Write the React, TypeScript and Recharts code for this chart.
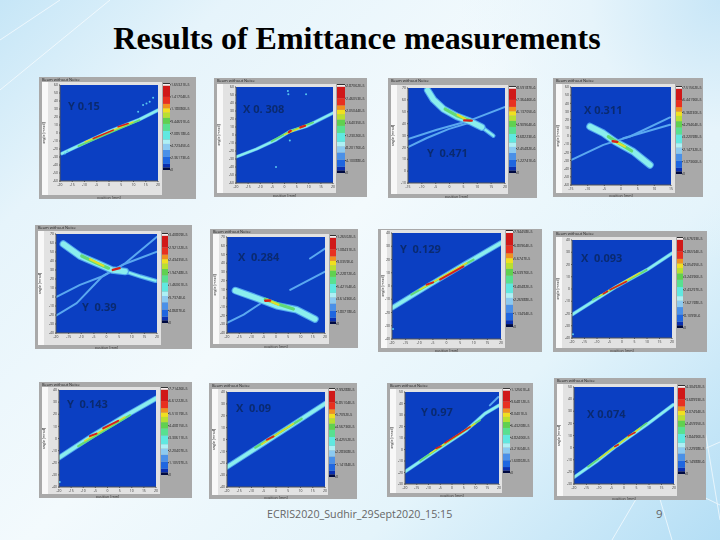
import React from 'react';
import { LineChart, Line, XAxis, YAxis, CartesianGrid, BarChart, Bar } from 'recharts';

type Seg = number[][];

const titleText = 'Results of Emittance measurements';
const footerText = 'ECRIS2020_Sudhir_29Sept2020_15:15';
const pageNumber = '9';

const xTicks20 = [-20, -15, -10, -5, 0, 5, 10, 15, 20];
const yTicks60 = [-60, -50, -40, -30, -20, -10, 0, 10, 20, 30, 40, 50, 60];
const yTicks40 = [-40, -30, -20, -10, 0, 10, 20, 30, 40];
const yTicks70 = [-40, -30, -20, -10, 0, 10, 20, 30, 40, 50, 60, 70];
const yTicks50 = [-30, -20, -10, 0, 10, 20, 30, 40, 50];

// Beam traces: [position mm, angle mrad]
const p1Beam: Seg[] = [[[-19.3, -25.7], [-11.9, -15.2], [0.3, 2.3], [12.5, 17], [20, 28.6]]];
const p1Green: Seg[] = [[[-12.5, -16.5], [12.5, 16.1]]];
const p1Yellow: Seg[] = [[[-9.8, -11], [9.8, 14]]];
const p1Red: Seg[] = [[[-6.4, -6.9], [1.7, 3.6]], [[3.7, 7.8], [7.8, 11.9]]];
const p1Specks: Seg[] = [[[11.9, 26.6], [13.9, 34.9], [16.6, 39.1], [15.3, 37], [18, 44], [-18, -25.7], [-17, -23]]];

const p2Beam: Seg[] = [[[-20, -27.5], [-11.5, -17.5], [-3.3, -5.8], [2.2, 4.6], [9, 10.8], [20, 27.5]]];
const p2Green: Seg[] = [[[-5.3, -7.9], [2.2, 4.6], [11.8, 15.8]]];
const p2Yellow: Seg[] = [[[0, 0.5], [9, 12]]];
const p2Red: Seg[] = [[[1.8, 3.5], [2.6, 5.5]], [[6.5, 9.5], [8.5, 11.5]]];
const p2Specks: Seg[] = [[[1.4, 55], [1.6, 51], [8.9, 51], [2.2, -7], [-3.5, -40]]];

const p3Streak: Seg[] = [[[-15, 27], [-4.6, 34.9], [7.4, 42.7], [20, 54]], [[-15, 20.3], [-8.2, 27.9], [-0.4, 35.4], [7.4, 41]]];
const p3Beam: Seg[] = [[[-7.9, 68], [-5.8, 60.2], [-2.2, 52.3], [2.6, 46.1], [7.4, 41.9], [11.6, 37.1]]];
const p3Tail: Seg[] = [[[7.4, 41.9], [11.6, 37.1], [15.8, 29.8]]];
const p3Green: Seg[] = [[[-1.6, 52.3], [2.6, 46.7], [7.4, 42.7]]];
const p3Yellow: Seg[] = [[[2.9, 47.5], [5.6, 43.9]]];
const p3Red: Seg[] = [[[5.3, 42.7], [8, 42.5]]];

const p4Streak: Seg[] = [[[-15, -29.4], [-5.3, -10.9], [2.7, -0.6], [14.7, 22.7]], [[0.7, -2.7], [14.7, 13.7]]];
const p4Beam: Seg[] = [[[-9.3, 11.6], [-5.3, 3.4], [-1.8, -6.8], [3.7, -19.1], [8.7, -35.5]]];
const p4Green: Seg[] = [[[-3.8, -0.7], [-0.3, -9.7], [3.2, -18.3]]];
const p4Yellow: Seg[] = [[[-2.1, -6], [1.2, -13]]];
const p4Red: Seg[] = [[[-2.5, -6.4], [-1.1, -7.2]]];

const p5Streak: Seg[] = [[[-20, -0.1], [-10.5, 13.5], [-1.8, 22.8], [7.4, 37.5], [20, 67]], [[-20, -20.8], [-11.8, -6.8], [-2, 22], [7.4, 37], [20, 50.4]]];
const p5Beam: Seg[] = [[[-17.1, 58.9], [-10.5, 45.6], [-3.8, 37.5], [2.1, 30.1], [7.4, 28.3]]];
const p5Tail: Seg[] = [[[7.4, 28.3], [13.4, 22.8], [19.4, 18]]];
const p5Green: Seg[] = [[[-9.8, 45.6], [-3.8, 37.5], [0.8, 32]]];
const p5Yellow: Seg[] = [[[-6.5, 42], [-1.2, 34.6]]];
const p5Red: Seg[] = [[[2.5, 30.1], [5.2, 32]]];

const p6Streak: Seg[] = [[[-20, -28.5], [-13.2, -19], [-5.1, -3.9]], [[5.8, 9.4], [20, 30.2]], [[13.9, 45.4], [20, 56.7]]];
const p6Beam: Seg[] = [[[-16.6, 8.6], [-7.8, -0.1], [0.3, -8.8], [8.5, -13.4], [15.9, -24]]];
const p6Green: Seg[] = [[[-4.4, -1.3], [1.7, -7.7], [7.1, -12.6]]];
const p6Yellow: Seg[] = [[[-3.7, -2], [1, -7.7]]];
const p6Red: Seg[] = [[[-4.4, -3.1], [-2.4, -2.8]]];

const p7Beam: Seg[] = [[[-20, -16.6], [-6.1, 1], [7.4, 17.4], [20, 32.5]]];
const p7Green: Seg[] = [[[-12.9, -6.5], [9.9, 19.9]]];
const p7Yellow: Seg[] = [[[-9.8, -2.8], [7.4, 17.4]]];
const p7Red: Seg[] = [[[-7.3, 1], [-4.9, 2.8]], [[-2.4, 4.8], [6.2, 14.8]]];
const p7Specks: Seg[] = [[[-19.6, -32.5]]];

const p8Beam: Seg[] = [[[-20, -21], [-2.2, 2], [9.9, 15.6], [20, 29.2]]];
const p8Green: Seg[] = [[[-11.6, -8.8], [9.9, 15.6]]];
const p8Yellow: Seg[] = [[[-8.9, -5.5], [7.2, 13.4]]];
const p8Red: Seg[] = [[[-7.5, -3.9], [-5.8, -1.8]], [[-4.8, -0.6], [1.8, 6.1]]];
const p8Specks: Seg[] = [[[-19.6, -37]]];

const p9Beam: Seg[] = [[[-20, -15.8], [-5.9, 2.7], [7.9, 19.3], [20, 33.1]]];
const p9Green: Seg[] = [[[-12.1, -6.4], [9.3, 19.3]]];
const p9Yellow: Seg[] = [[[-9.4, -2], [7.2, 17.9]]];
const p9Red: Seg[] = [[[-7.3, 1.9], [-4.5, 4.1]], [[-1.8, 8.3], [4.4, 14.6]]];
const p9Specks: Seg[] = [[[-19.7, -35.9]]];

const p10Beam: Seg[] = [[[-20, -23.2], [-10.5, -10.6], [-1, 2.1], [8.5, 14.7], [20, 30.2]]];
const p10Green: Seg[] = [[[-8.5, -6.9], [10.5, 17.5]]];
const p10Yellow: Seg[] = [[[-5.8, -4.1], [7.1, 13.3]]];
const p10Red: Seg[] = [[[-3.7, -0.2], [-1, 2.6]]];

const p11Streak: Seg[] = [[[16.1, 38.4], [19.7, 45.7]]];
const p11Beam: Seg[] = [[[-20, -19.3], [-6.5, -0.6], [6.2, 16.8], [14, 31.2], [20, 38.4]]];
const p11Green: Seg[] = [[[-13.6, -9.8], [11.9, 25.4]]];
const p11Yellow: Seg[] = [[[-9.4, -3.5], [9.8, 22.5]]];
const p11Red: Seg[] = [[[-6.8, 0.9], [-4.7, 2.9]], [[-3, 5.8], [7.7, 19.7]]];

const p12Beam: Seg[] = [[[-20, -24.5], [-11, -11.5], [-3, 1.4], [9, 18.8], [19.7, 35.4]]];
const p12Green: Seg[] = [[[-14.4, -15.7], [9, 20.2]]];
const p12Yellow: Seg[] = [[[-9.7, -8.8], [6.4, 16]]];
const p12Red: Seg[] = [[[-3.7, 0.9], [-2.3, 2.3]], [[1.7, 9.7], [4.4, 12.5]]];

// Colour scale legend labels, bottom to top
const scale1 = ['0', '2.36173E-6', '4.72345E-6', '7.08518E-6', '9.44691E-6', '1.18086E-5', '1.41704E-5', '1.65321E-5'];
const scale2 = ['0', '4.10088E-6', '8.20176E-6', '1.23026E-5', '1.64035E-5', '2.05044E-5', '2.46053E-5', '2.87062E-5'];
const scale3 = ['0', '1.22741E-6', '2.45482E-6', '3.68223E-6', '4.90964E-6', '6.13705E-6', '7.36446E-6', '8.59187E-6'];
const scale4 = ['0', '1.07366E-5', '2.14732E-5', '3.22098E-5', '4.29464E-5', '5.36830E-5', '6.44196E-5', '7.51562E-5'];
const scale5 = ['0', '4.8687E-6', '9.7374E-6', '1.46061E-5', '1.94748E-5', '2.43435E-5', '2.92122E-5', '3.40809E-5'];
const scale6 = ['0', '1.80718E-6', '3.61436E-6', '5.42154E-6', '7.22872E-6', '9.0359E-6', '1.08431E-5', '1.26502E-5'];
const scale7 = ['0', '1.13494E-5', '2.26988E-5', '3.40482E-5', '4.53976E-5', '5.6747E-5', '6.80964E-5', '7.94458E-5'];
const scale8 = ['0', '8.1099E-6', '1.62198E-5', '2.43297E-5', '3.24396E-5', '4.05495E-5', '4.86594E-5', '5.67693E-5'];
const scale9 = ['0', '1.10597E-5', '2.20407E-5', '3.30611E-5', '4.40815E-5', '5.51019E-5', '6.61222E-5', '7.71426E-5'];
const scale10 = ['0', '1.14184E-5', '2.28368E-5', '3.42552E-5', '4.56736E-5', '5.7092E-5', '6.85104E-5', '7.99288E-5'];
const scale11 = ['0', '1.60802E-5', '3.21604E-5', '4.82406E-5', '6.43208E-5', '8.0401E-5', '9.64812E-5', '1.12561E-4'];
const scale12 = ['0', '6.14988E-6', '1.22998E-5', '1.84496E-5', '2.45995E-5', '3.07494E-5', '3.68993E-5', '4.30492E-5'];

const scaleTicks = [0, 14, 28, 42, 56, 70, 84, 98];
const bandShares = [3, 4, 8, 8, 7, 5, 10, 8, 7, 6, 5, 5, 8, 13, 2, 1];
const bandColors = ['#000a40', '#0a2fb0', '#1f66e0', '#4a90e8', '#8ccaf0', '#aef0f5', '#60e8e0', '#58e090', '#60d050', '#b8e030', '#f0e020', '#f09020', '#e83020', '#d01818', '#f8f0f0', '#202020'];
const bandRow: Record<string, number | string> = { c: 'scale' };
bandShares.forEach((v, i) => { bandRow['b' + i] = v; });

const C = { streak: '#5aa8f0', halo: '#4fa4ee', cyan: '#8aeeee', green: '#62da78', yellow: '#e2de2a', red: '#d6201a', plot: '#0b3fc2' };

const xTicks15 = [-15, -10, -5, 0, 5, 10, 15];
const xTicks35 = [-15, -10, -5, 0, 5, 10, 15, 20];
const yTicks80 = [-10, 0, 10, 20, 30, 40, 50, 60, 70];

interface P {
  tag: string; lx: number; ly: number; title: string;
  outer: number[]; plot: number[]; bar: number[];
  xd: number[]; yd: number[]; xt: number[]; yt: number[]; scale: string[];
  beam: Seg[]; tail?: Seg[]; streak?: Seg[]; green: Seg[]; yellow: Seg[]; red: Seg[]; specks?: Seg[];
  w: number[]; // halo, cyan, green, yellow, red
}

const thin = [3.6, 2.4, 1.8, 1.3, 1.6];
const mid = [5.4, 3.6, 2.2, 1.5, 1.9];
const fan = [7.5, 5.4, 3.2, 2.2, 2.4];

const panels: P[] = [
  { tag: 'Y 0.15', lx: 68, ly: 106, title: 'Beam without Noise', outer: [39, 77, 196, 199], plot: [60, 158, 85, 181], bar: [163, 170, 83, 170], xd: [-20, 20], yd: [-60, 60], xt: xTicks20, yt: yTicks60, scale: scale1, beam: p1Beam, green: p1Green, yellow: p1Yellow, red: p1Red, specks: p1Specks, w: thin },
  { tag: 'X 0. 308', lx: 243, ly: 109, title: 'Beam without Noise', outer: [214, 78, 367, 197], plot: [236, 333, 87, 183], bar: [337, 345, 84, 173], xd: [-20, 20], yd: [-60, 60], xt: xTicks20, yt: yTicks60, scale: scale2, beam: p2Beam, green: p2Green, yellow: p2Yellow, red: p2Red, specks: p2Specks, w: [3.4, 2.2, 1.8, 1.4, 2.2] },
  { tag: 'Y  0.471', lx: 427, ly: 153, title: 'Beam without Noise', outer: [388, 78, 537, 198], plot: [408, 505, 88, 183], bar: [509, 516, 86, 173], xd: [-15, 20], yd: [-10, 70], xt: xTicks35, yt: yTicks80, scale: scale3, beam: p3Beam, tail: p3Tail, streak: p3Streak, green: p3Green, yellow: p3Yellow, red: p3Red, w: fan },
  { tag: 'X 0.311', lx: 584, ly: 110, title: 'Beam without Noise', outer: [553, 78, 703, 197], plot: [571, 671, 87, 185], bar: [676, 682, 86, 174], xd: [-15, 15], yd: [-60, 60], xt: xTicks15, yt: yTicks60, scale: scale4, beam: p4Beam, streak: p4Streak, green: p4Green, yellow: p4Yellow, red: p4Red, w: fan },
  { tag: 'Y  0.39', lx: 82, ly: 307, title: 'Beam without Noise', outer: [35, 225, 192, 349], plot: [56, 157, 234, 333], bar: [162, 168, 233, 323], xd: [-20, 20], yd: [-40, 70], xt: xTicks20, yt: yTicks70, scale: scale5, beam: p5Beam, tail: p5Tail, streak: p5Streak, green: p5Green, yellow: p5Yellow, red: p5Red, w: fan },
  { tag: 'X  0.284', lx: 238, ly: 257, title: 'Beam without Noise', outer: [210, 229, 358, 348], plot: [227, 325, 237, 333], bar: [330, 336, 235, 324], xd: [-20, 20], yd: [-40, 70], xt: xTicks20, yt: yTicks70, scale: scale6, beam: p6Beam, streak: p6Streak, green: p6Green, yellow: p6Yellow, red: p6Red, w: fan },
  { tag: 'Y  0.129', lx: 400, ly: 249, title: '', outer: [378, 229, 542, 352], plot: [392, 501, 233, 339], bar: [506, 513, 230, 327], xd: [-20, 20], yd: [-40, 40], xt: xTicks20, yt: yTicks40, scale: scale7, beam: p7Beam, green: p7Green, yellow: p7Yellow, red: p7Red, specks: p7Specks, w: mid },
  { tag: 'X  0.093', lx: 581, ly: 258, title: 'Beam without Noise', outer: [553, 231, 707, 352], plot: [572, 672, 240, 338], bar: [677, 683, 237, 328], xd: [-20, 20], yd: [-40, 40], xt: xTicks20, yt: yTicks40, scale: scale8, beam: p8Beam, green: p8Green, yellow: p8Yellow, red: p8Red, specks: p8Specks, w: thin },
  { tag: 'Y  0.143', lx: 67, ly: 404, title: 'Beam without Noise', outer: [39, 382, 192, 498], plot: [59, 156, 390, 487], bar: [161, 168, 387, 475], xd: [-20, 20], yd: [-40, 40], xt: xTicks20, yt: yTicks40, scale: scale9, beam: p9Beam, green: p9Green, yellow: p9Yellow, red: p9Red, specks: p9Specks, w: mid },
  { tag: 'X  0.09', lx: 236, ly: 408, title: 'Beam without Noise', outer: [209, 383, 357, 499], plot: [227, 325, 392, 487], bar: [329, 335, 388, 477], xd: [-20, 20], yd: [-40, 40], xt: xTicks20, yt: yTicks40, scale: scale10, beam: p10Beam, green: p10Green, yellow: p10Yellow, red: p10Red, w: mid },
  { tag: 'Y 0.97', lx: 421, ly: 412, title: 'Beam without Noise', outer: [387, 383, 533, 497], plot: [405, 499, 392, 484], bar: [503, 510, 388, 473], xd: [-20, 20], yd: [-30, 50], xt: xTicks20, yt: yTicks50, scale: scale11, beam: p11Beam, streak: p11Streak, green: p11Green, yellow: p11Yellow, red: p11Red, w: thin },
  { tag: 'X 0.074', lx: 587, ly: 414, title: 'Beam without Noise', outer: [554, 378, 706, 500], plot: [574, 674, 387, 484], bar: [678, 685, 385, 474], xd: [-20, 20], yd: [-30, 50], xt: xTicks20, yt: yTicks50, scale: scale12, beam: p12Beam, green: p12Green, yellow: p12Yellow, red: p12Red, w: thin },
];

const sans = '"Open Sans", "DejaVu Sans", sans-serif';
const tickStyle = { fontSize: 3.4, fill: '#333', fontFamily: sans };
const axisTitle = { fontSize: 3.6, fill: '#333', fontFamily: sans };

function strokes(key: string, segs: Seg[] | undefined, color: string, width: number) {
  return (segs || []).map((s, i) => (
    <Line
      key={key + i}
      data={s.map(([x, y]) => ({ x, y }))}
      dataKey="y"
      type="linear"
      dot={false}
      stroke={color}
      strokeWidth={width}
      strokeLinecap="round"
      strokeLinejoin="round"
      isAnimationActive={false}
      legendType="none"
    />
  ));
}

function specks(segs: Seg[] | undefined) {
  return (segs || []).map((s, i) => (
    <Line
      key={'speck' + i}
      data={s.map(([x, y]) => ({ x, y }))}
      dataKey="y"
      stroke="none"
      dot={{ r: 1, fill: '#58c8f0', stroke: 'none' }}
      isAnimationActive={false}
      legendType="none"
    />
  ));
}

function Panel({ p }: { p: P }) {
  const [ox0, oy0, ox1, oy1] = p.outer;
  const [px0, px1, py0, py1] = p.plot;
  const [bx0, bx1, by0, by1] = p.bar;
  const w = ox1 - ox0;
  const h = oy1 - oy0;
  return (
    <div style={{ position: 'absolute', left: ox0, top: oy0, width: w, height: h, background: '#a9a9a9', filter: 'blur(0.55px)' }}>
      <div style={{ position: 'absolute', left: 3, top: py0 - oy0 - 3, width: bx0 - ox0 - 4, height: h - (py0 - oy0 - 3) - 4, background: '#e2e2e2' }} />
      <div style={{ position: 'absolute', left: 3, top: py0 - oy0 - 3, width: 6, height: h - (py0 - oy0 - 3) - 4, background: '#f8f8f8' }} />
      <div style={{ position: 'absolute', left: 3, top: 0, fontSize: 4, lineHeight: '6px', color: '#222', fontFamily: sans, whiteSpace: 'nowrap' }}>{p.title}</div>
      <div style={{ position: 'absolute', left: 0, top: 0 }}>
        <LineChart
          width={px1 - ox0 + 5}
          height={h}
          margin={{ top: py0 - oy0, right: 5, bottom: 0, left: 0 }}
        >
          <CartesianGrid fill={C.plot} horizontal={false} vertical={false} stroke="none" />
          <XAxis
            dataKey="x" type="number" domain={p.xd} ticks={p.xt} interval={0} allowDataOverflow
            height={oy1 - py1} tick={tickStyle} tickSize={1} stroke="#555" tickMargin={1.6}
            label={{ value: 'position [mm]', position: 'insideBottom', offset: 0.5, style: axisTitle }}
          />
          <YAxis
            type="number" domain={p.yd} ticks={p.yt} interval={0} allowDataOverflow
            width={px0 - ox0} tick={tickStyle} tickSize={1} stroke="#555" tickMargin={1}
            label={{ value: 'angle [mrad]', angle: -90, position: 'insideLeft', offset: 5, style: { ...axisTitle, textAnchor: 'middle' } }}
          />
          {strokes('st', p.streak, C.streak, 2)}
          {strokes('tl', p.tail, C.halo, 4.4)}
          {strokes('tc', p.tail, C.cyan, 2.2)}
          {strokes('ha', p.beam, C.halo, p.w[0])}
          {strokes('cy', p.beam, C.cyan, p.w[1])}
          {strokes('gr', p.green, C.green, p.w[2])}
          {strokes('ye', p.yellow, C.yellow, p.w[3])}
          {strokes('re', p.red, C.red, p.w[4])}
          {specks(p.specks)}
        </LineChart>
      </div>
      <div style={{ position: 'absolute', left: bx0 - ox0, top: by0 - oy0 - 3 }}>
        <BarChart
          width={ox1 - bx0}
          height={by1 - by0 + 6}
          data={[bandRow]}
          margin={{ top: 3, right: 0, bottom: 3, left: 0 }}
          barCategoryGap={0}
        >
          <XAxis dataKey="c" hide />
          <YAxis
            orientation="right" type="number" domain={[0, 100]} ticks={scaleTicks} interval={0}
            width={ox1 - bx1} tickSize={1} stroke="#444" axisLine={false} tickMargin={0}
            tick={{ fontSize: 3.6, fill: '#222', fontFamily: sans }}
            tickFormatter={(v: number) => p.scale[scaleTicks.indexOf(v)]}
          />
          {bandShares.map((_, i) => (
            <Bar key={i} dataKey={'b' + i} stackId="s" fill={bandColors[i]} isAnimationActive={false} legendType="none" />
          ))}
        </BarChart>
      </div>
      <div style={{ position: 'absolute', left: p.lx - ox0, top: p.ly - oy0 - 8, fontSize: 11, lineHeight: '16px', fontWeight: 700, color: '#0a2a70', fontFamily: sans, whiteSpace: 'pre' }}>{p.tag}</div>
    </div>
  );
}

export default function App() {
  return (
    <div style={{ position: 'absolute', left: 0, top: 0, width: 720, height: 540, overflow: 'hidden', background: 'radial-gradient(circle at 720px 0px,#c8e6f7 0,#e6f4fb 130px,rgba(230,244,251,0) 260px),linear-gradient(135deg,#c6e6f7 0%,#e6f4fb 18%,#f3fafd 45%,#e4f4fb 72%,#b4def5 100%)' }}>
      <svg width={720} height={540} style={{ position: 'absolute', left: 0, top: 0 }}>
        <g stroke="#ffffff" strokeWidth={1} fill="none" opacity={0.65}>
          <path d="M612 540 L652 472 L720 442" />
          <path d="M652 472 L720 505" />
          <path d="M652 472 L672 540" />
          <path d="M700 400 L720 520" />
          <path d="M0 40 L60 0" />
          <path d="M0 90 L110 0" />
        </g>
      </svg>
      <div style={{ position: 'absolute', left: 0, top: 19, width: 714, textAlign: 'center', fontFamily: '"Liberation Serif", serif', fontWeight: 700, fontSize: 32, lineHeight: '38px', color: '#000', whiteSpace: 'nowrap' }}>{titleText}</div>
      {panels.map((p, i) => <Panel key={i} p={p} />)}
      <div style={{ position: 'absolute', left: 267, top: 506, fontFamily: sans, fontSize: 10.7, lineHeight: '16px', color: '#666', whiteSpace: 'nowrap' }}>{footerText}</div>
      <div style={{ position: 'absolute', left: 656, top: 506, fontFamily: sans, fontSize: 11.5, lineHeight: '16px', color: '#666' }}>{pageNumber}</div>
    </div>
  );
}
